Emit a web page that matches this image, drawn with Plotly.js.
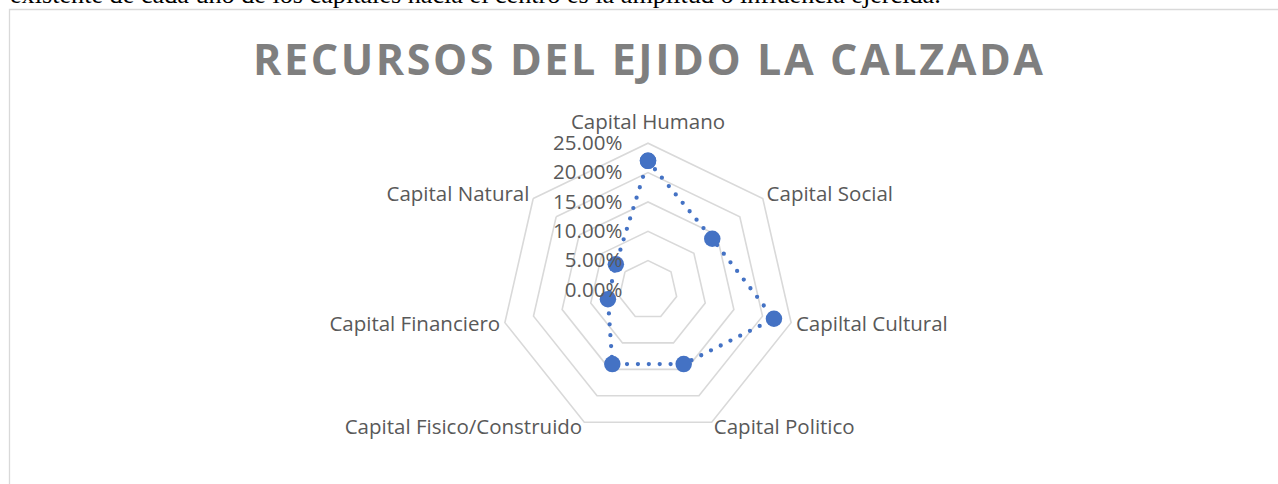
<!DOCTYPE html>
<html>
<head>
<meta charset="utf-8">
<script src="https://cdn.plot.ly/plotly-3.0.1.min.js"></script>
<style>
  html, body { margin: 0; padding: 0; background: #fff; overflow: hidden; }
  #note { position: absolute; left: 10px; top: -18px; font-family: "Liberation Serif", "Times New Roman", serif; font-size: 26.2px; line-height: 26.2px; color: #000; white-space: nowrap; }
  #chart { position: absolute; left: 0; top: 0; width: 1278px; height: 484px; }
  .scatterlayer path.js-line { stroke-linecap: round; }
</style>
</head>
<body>
<div id="chart"></div>
<div id="note">existente de cada uno de los capitales hacia el centro es la amplitud o influencia ejercida.</div>
<script>
const categories = ["Capital Humano", "Capital Social", "Capiltal Cultural", "Capital Politico", "Capital Fisico/Construido", "Capital Financiero", "Capital Natural"];
const values = [0.22, 0.14, 0.22, 0.14, 0.14, 0.07, 0.07];
const radialTicks = [0, 0.05, 0.10, 0.15, 0.20, 0.25];
const chartTitle = "RECURSOS DEL EJIDO LA CALZADA";

const W = 1278, H = 484;
const cx = 648, cy = 290, R = 146.8;

const theta = categories.concat([categories[0]]);
const r = values.concat([values[0]]);

const trace = {
  type: "scatterpolar",
  mode: "lines+markers",
  theta: theta,
  r: r,
  line: { color: "#4472C4", width: 4.3, dash: "0px,10.9px" },
  marker: { color: "#4472C4", size: 16.5 },
  showlegend: false,
  cliponaxis: false
};

const layout = {
  width: W, height: H,
  margin: { l: 0, r: 0, t: 0, b: 0, pad: 0 },
  paper_bgcolor: "rgba(0,0,0,0)",
  plot_bgcolor: "rgba(0,0,0,0)",
  showlegend: false,
  title: {
    text: chartTitle,
    x: cx / W, xref: "paper", xanchor: "center",
    y: 1 - 59.5 / H, yref: "container", yanchor: "middle",
    font: { family: "Open Sans", size: 43, color: "#7f7f7f", weight: 700 }
  },
  polar: {
    domain: { x: [(cx - R) / W, (cx + R) / W], y: [1 - (cy + R) / H, 1 - (cy - R) / H] },
    bgcolor: "rgba(0,0,0,0)",
    gridshape: "linear",
    angularaxis: {
      type: "category",
      categoryarray: categories,
      direction: "clockwise",
      rotation: 90,
      showgrid: false,
      showline: true,
      linecolor: "#d9d9d9",
      linewidth: 1.6,
      ticks: "",
      tickfont: { family: "Open Sans", size: 20.5, color: "#595959" }
    },
    radialaxis: {
      range: [0, 0.25],
      tickvals: radialTicks,
      tickformat: ".2%",
      angle: 90,
      side: "counterclockwise",
      showline: false,
      showgrid: true,
      gridcolor: "#d9d9d9",
      gridwidth: 1.6,
      ticks: "outside",
      ticklen: 18,
      tickcolor: "rgba(0,0,0,0)",
      tickangle: 90,
      tickfont: { family: "Open Sans", size: 20.5, color: "#595959" },
      layer: "above traces"
    }
  },
  shapes: [{
    type: "rect", xref: "paper", yref: "paper",
    x0: 9.5 / W, x1: 1.02, y0: -0.05, y1: 1 - 9.5 / H,
    line: { color: "#d9d9d9", width: 1.3 }, fillcolor: "rgba(0,0,0,0)", layer: "below"
  }]
};

// vertical nudges of the category labels, to sit like the original's
const labelNudge = { "Capital Humano": -5, "Capital Social": 3, "Capiltal Cultural": -4, "Capital Politico": -14, "Capital Fisico/Construido": -14, "Capital Financiero": -4, "Capital Natural": 3 };

Plotly.newPlot("chart", [trace], layout, { displayModeBar: false, staticPlot: true }).then(function (gd) {
  const t = gd.querySelector(".gtitle");
  if (t) {
    const natural = t.getComputedTextLength();
    const target = 790;
    const ls = (target - natural) / (chartTitle.length - 1);
    t.style.letterSpacing = ls + "px";
    t.setAttribute("x", parseFloat(t.getAttribute("x")) + ls / 2);
  }
  gd.querySelectorAll("text").forEach(function (el) {
    const key = el.textContent;
    if (labelNudge.hasOwnProperty(key)) {
      const y = parseFloat(el.getAttribute("y") || "0");
      el.setAttribute("y", y + labelNudge[key]);
    }
  });
});
</script>
</body>
</html>
